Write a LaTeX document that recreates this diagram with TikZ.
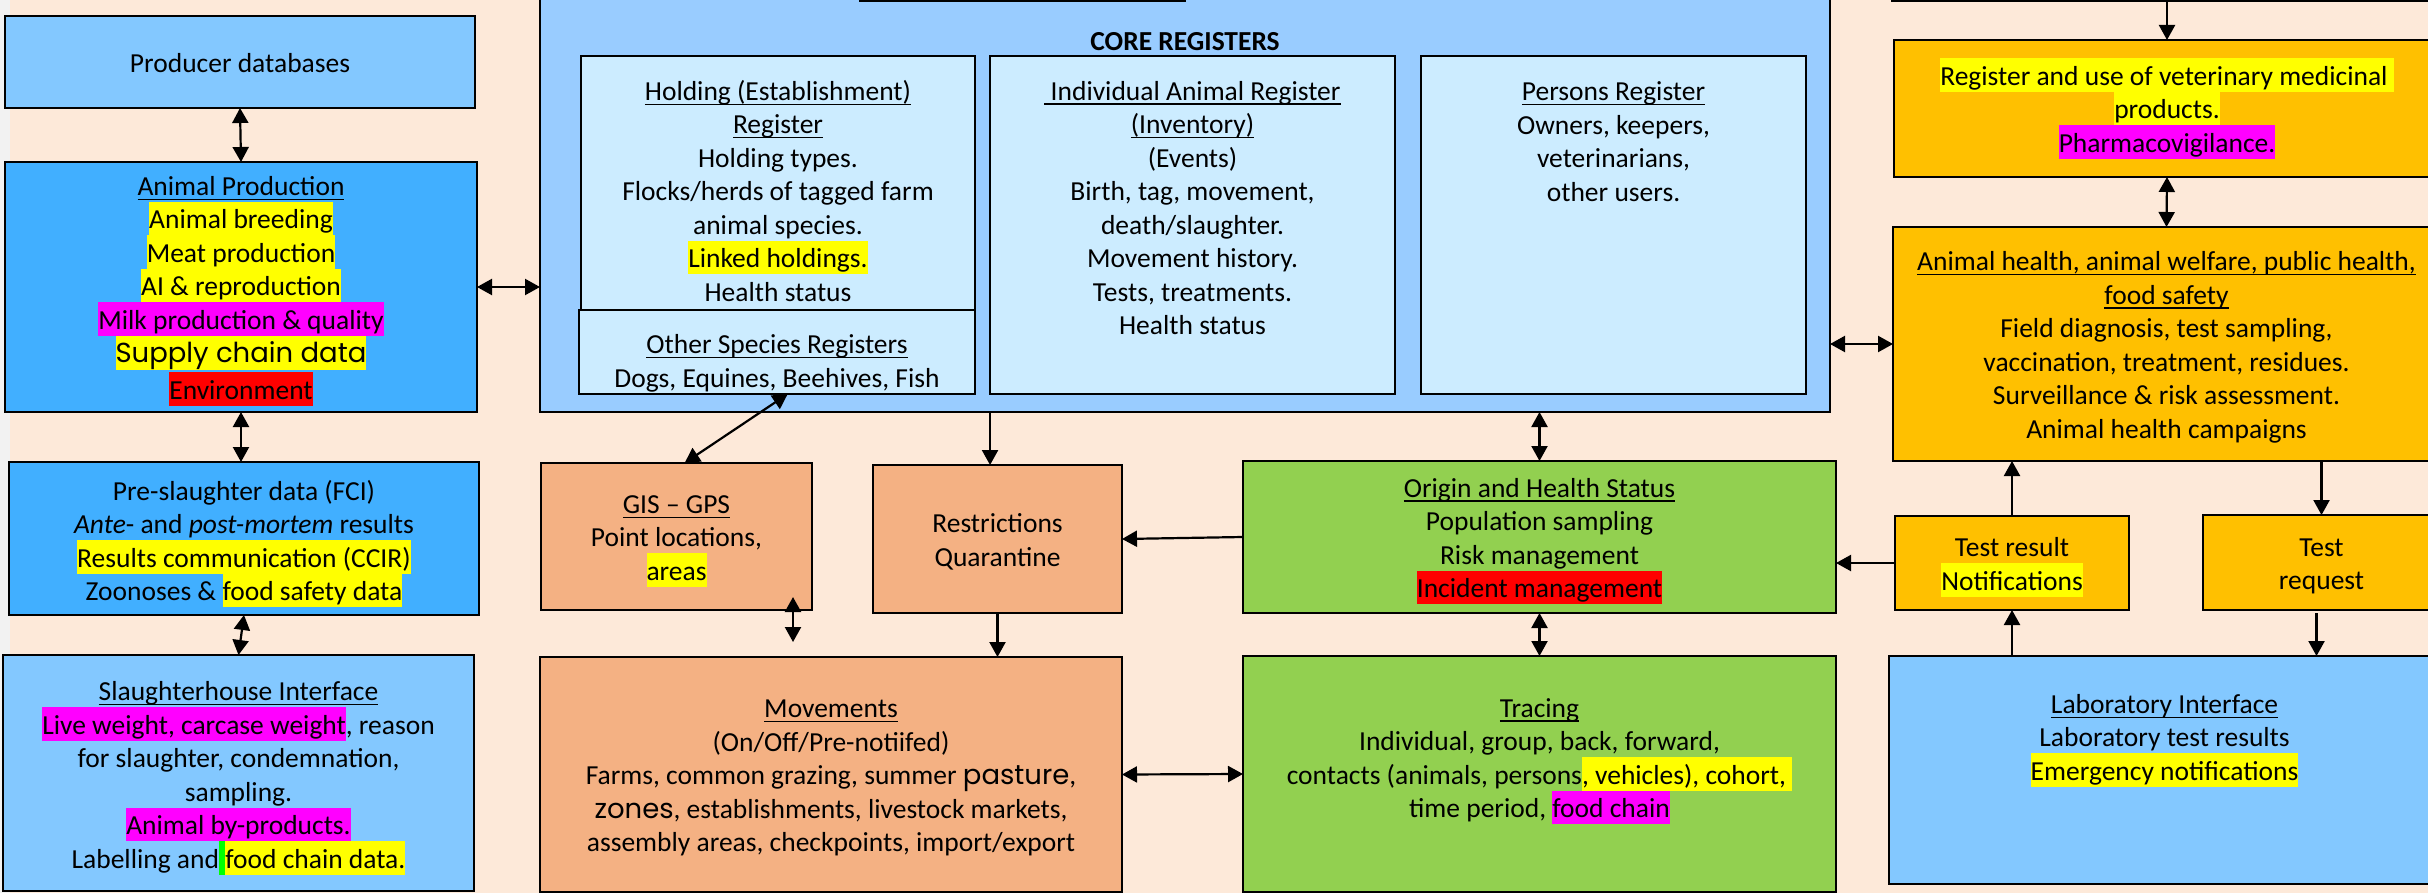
\documentclass[tikz,border=0pt]{standalone}
\usepackage{fontspec}
\setmainfont{Carlito}
\newfontfamily\gothicfont{Poppins}
\usetikzlibrary{fit,calc,arrows.meta}
\definecolor{bgpeach}{HTML}{FDE9D9}
\definecolor{graystrip}{HTML}{F2F2F2}
\definecolor{lblue}{HTML}{83C8FF}
\definecolor{mblue}{HTML}{41AFFF}
\definecolor{corefill}{HTML}{99CCFF}
\definecolor{innerfill}{HTML}{CCECFF}
\definecolor{peachbox}{HTML}{F4B183}
\definecolor{greenbox}{HTML}{92D050}
\definecolor{goldbox}{HTML}{FFC000}
\definecolor{hly}{HTML}{FFFF00}
\definecolor{hlm}{HTML}{FF00FF}
\definecolor{hlr}{HTML}{FF0000}
\definecolor{hlg}{HTML}{00FF00}
\newsavebox{\ulbox}
\newcommand{\ts}{\rule[-3.2pt]{0pt}{16.75pt}}
\newcommand{\uln}[1]{\leavevmode\sbox{\ulbox}{#1}\rlap{\rule[-2.2pt]{\wd\ulbox}{0.6pt}}\usebox{\ulbox}}
\newcommand{\hlc}[2]{{\setlength{\fboxsep}{0pt}\colorbox{#1}{\ts#2}}}
\newcommand{\bx}[6]{\node[boxst, fill=#6, fit={(#2,#3) (#4,#5)}] (#1) {};}
\tikzset{
  boxst/.style={draw=black, line width=0.85pt, inner sep=0pt, outer sep=0pt},
  txt/.style={align=center, inner sep=0pt, font=\fontsize{13.75}{16.75}\selectfont},
  arr/.style={line width=1.1pt, -{Triangle[length=7.5pt,width=8pt]}},
  dbl/.style={line width=1.1pt, {Triangle[length=7.5pt,width=8pt]}-{Triangle[length=7.5pt,width=8pt]}},
}
\begin{document}
\begin{tikzpicture}[x=0.5pt, y=-0.5pt]
\useasboundingbox (0,0) rectangle (2428,893);
\clip (0,0) rectangle (2428,893);
\fill[graystrip] (0,0) rectangle (10,893);
\fill[bgpeach] (10,0) rectangle (2428,893);

% boxes
\bx{prod}{5}{16}{475}{108}{lblue}
\bx{ap}{5}{162}{477}{412}{mblue}
\bx{pre}{9}{462}{479}{615}{mblue}
\bx{slh}{3}{655}{474}{891}{lblue}
\bx{core}{540}{-20}{1830}{412}{corefill}
\bx{topA}{860}{-60}{1185}{1}{corefill}
\bx{hold}{581}{56}{975}{310}{innerfill}
\bx{oth}{579}{310}{975}{394}{innerfill}
\bx{ind}{990}{56}{1395}{394}{innerfill}
\bx{pers}{1421}{56}{1806}{394}{innerfill}
\bx{gis}{541}{463}{812}{610}{peachbox}
\bx{rest}{873}{465}{1122}{613}{peachbox}
\bx{mov}{540}{657}{1122}{892}{peachbox}
\bx{orig}{1243}{461}{1836}{613}{greenbox}
\bx{trac}{1243}{656}{1836}{892}{greenbox}
\bx{topB}{1892}{-60}{2450}{1}{bgpeach}
\bx{reg}{1894}{40}{2440}{177}{goldbox}
\bx{ah}{1893}{227}{2440}{461}{goldbox}
\bx{tres}{1895}{516}{2129}{610}{goldbox}
\bx{treq}{2203}{515}{2440}{610}{goldbox}
\bx{lab}{1889}{656}{2440}{884}{lblue}

% texts
\node[txt] (prodt) at (prod.center) {\ts Producer databases\ts};
\node[txt] (apt) at (ap.center) {\ts\uln{Animal Production}\\
\hlc{hly}{Animal breeding}\\
\hlc{hly}{Meat production}\\
\hlc{hly}{AI \& reproduction}\\
\hlc{hlm}{Milk production \& quality}\\
\hlc{hly}{\gothicfont Supply chain data}\\
\hlc{hlr}{Environment}};
\node[txt] (pret) at (244,540) {\ts Pre-slaughter data (FCI)\\
\textit{Ante}- and \textit{post-mortem} results\\
\hlc{hly}{Results communication (CCIR)}\\
Zoonoses \& \hlc{hly}{food safety data}};
\node[txt] (slht) at (238.5,774) {\ts\uln{Slaughterhouse Interface}\\
\hlc{hlm}{Live weight, carcase weight}, reason\\
for slaughter, condemnation,\\
sampling.\\
\hlc{hlm}{Animal by-products.}\\
Labelling and\hlc{hlg}{\ }\hlc{hly}{food chain data.}};
\node[txt, font=\fontsize{13.75}{16.75}\selectfont\bfseries] (coret) at (1185,40) {\ts CORE REGISTERS\ts};
\node[txt] (holdt) at (778,190.5) {\ts\uln{Holding (Establishment)}\\
\uln{Register}\\
Holding types.\\
Flocks/herds of tagged farm\\
animal species.\\
\hlc{hly}{Linked holdings.}\\
Health status\ts};
\node[txt] (otht) at (777,360) {\ts\uln{Other Species Registers}\\
Dogs, Equines, Beehives, Fish\ts};
\node[txt] (indt) at (1192.5,207) {\ts\uln{\ Individual Animal Register}\\
\uln{(Inventory)}\\
(Events)\\
Birth, tag, movement,\\
death/slaughter.\\
Movement history.\\
Tests, treatments.\\
Health status\ts};
\node[txt] (perst) at (1613.5,140.5) {\ts\uln{Persons Register}\\
Owners, keepers,\\
veterinarians,\\
other users.\ts};
\node[txt] (gist) at (gis.center) {\ts\uln{GIS -- GPS}\\
Point locations,\\
\hlc{hly}{areas}};
\node[txt] (restt) at (rest.center) {\ts Restrictions\\
Quarantine\ts};
\node[txt] (movt) at (mov.center) {\ts\uln{Movements}\\
(On/Off/Pre-notiifed)\\
Farms, common grazing, summer {\gothicfont pasture},\\
{\gothicfont zones}, establishments, livestock markets,\\
assembly areas, checkpoints, import/export\ts};
\node[txt] (origt) at (orig.center) {\ts\uln{Origin and Health Status}\\
Population sampling\\
Risk management\\
\hlc{hlr}{Incident management}};
\node[txt] (tract) at (1539.5,757) {\ts\uln{Tracing}\\
Individual, group, back, forward,\\
contacts (animals, persons\hlc{hly}{, vehicles), cohort,\ }\\
time period, \hlc{hlm}{food chain}};
\node[txt] (regt) at (reg.center) {\hlc{hly}{Register and use of veterinary medicinal\ }\\
\hlc{hly}{products.}\\
\hlc{hlm}{Pharmacovigilance.}};
\node[txt] (aht) at (ah.center) {\ts\uln{Animal health, animal welfare, public health,}\\
\uln{food safety}\\
Field diagnosis, test sampling,\\
vaccination, treatment, residues.\\
Surveillance \& risk assessment.\\
Animal health campaigns\ts};
\node[txt] (trest) at (tres.center) {\ts Test result\\
\hlc{hly}{Notifications}};
\node[txt] (treqt) at (treq.center) {\ts Test\\
request\ts};
\node[txt] (labt) at (2164.5,736.5) {\ts\uln{Laboratory Interface}\\
Laboratory test results\\
\hlc{hly}{Emergency notifications}};

% helper coordinates
\coordinate (restin) at ($(rest.north west)!0.47!(rest.north east)$);
\coordinate (othout) at ($(oth.south west)!0.527!(oth.south east)$);
\coordinate (gisin) at ($(gis.north west)!0.53!(gis.north east)$);
\coordinate (gisout) at ($(gis.south east)+(-19,-13)$);
\coordinate (movin) at ($(mov.north west)+(253,-15)$);
\coordinate (treqout) at ($(treq.south)+(-5,3)$);

% connectors
\draw[dbl] (prod.south) -- (ap.north);
\draw[dbl] (ap.east) -- (ap.east -| core.west);
\draw[dbl] (ap.south) -- (ap.south |- pre.north);
\draw[dbl] (pre.south) -- (slh.north);
\draw[dbl] (othout) -- (gisin);
\draw[arr] (restin |- core.south) -- (restin);
\draw[dbl] (orig.north |- core.south) -- (orig.north);
\draw[dbl] (ah.west -| core.east) -- (ah.west);
\draw[arr] (reg.north |- topB.south) -- (reg.north);
\draw[dbl] (reg.south) -- (ah.north);
\draw[arr] (orig.west) -- (rest.east);
\draw[dbl] (gisout) -- (movin);
\draw[arr] (rest.south) -- (rest.south |- mov.north);
\draw[dbl] (mov.east) -- (trac.west);
\draw[dbl] (orig.south) -- (trac.north);
\draw[arr] (tres.west) -- (tres.west -| orig.east);
\draw[arr] (tres.north) -- (tres.north |- ah.south);
\draw[arr] (treq.north |- ah.south) -- (treq.north);
\draw[arr] (treqout) -- (treqout |- lab.north);
\draw[arr] (tres.south |- lab.north) -- (tres.south);
\end{tikzpicture}
\end{document}
